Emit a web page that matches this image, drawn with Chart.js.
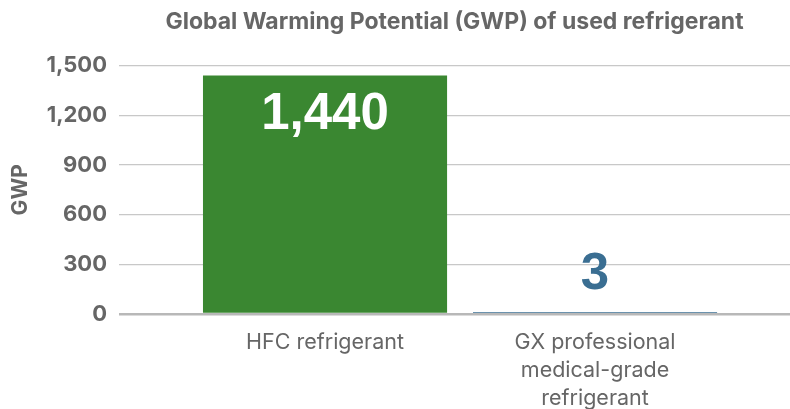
<!DOCTYPE html>
<html>
<head>
<meta charset="utf-8">
<script src="https://cdn.jsdelivr.net/npm/chart.js@4/dist/chart.umd.min.js"></script>
<style>
  html, body { margin: 0; padding: 0; background: #ffffff; }
  #wrap { width: 790px; height: 409px; position: relative; }
</style>
</head>
<body>
<div id="wrap"><canvas id="c" width="790" height="409"></canvas></div>
<script>
// ---- data ----
const categories = [
  ["HFC refrigerant"],
  ["GX professional", "medical-grade", "refrigerant"]
];
const gwpValues = [1440, 3];
const yTicks = [0, 300, 600, 900, 1200, 1500];
const chartTitle = "Global Warming Potential (GWP) of used refrigerant";
const yAxisTitle = "GWP";

// ---- styles ----
const barColors = ["#3a8731", "#3a6e92"];
const labelColors = ["#ffffff", "#3a6e92"];
const textGray = "#666666";
const FONT = "Inter, 'Liberation Sans', Arial, sans-serif";
const LABEL_FONT = "'Liberation Sans', Arial, Helvetica, sans-serif";

const points = gwpValues.map((v, i) => ({ x: i + 1, y: v }));

const valueLabels = {
  id: 'valueLabels',
  afterDatasetsDraw(chart) {
    const ctx = chart.ctx;
    const meta = chart.getDatasetMeta(0);
    const yScale = chart.scales.y;
    ctx.save();
    ctx.font = "bold 51px " + LABEL_FONT;
    ctx.textAlign = 'center';
    ctx.textBaseline = 'middle';
    meta.data.forEach((bar, i) => {
      const v = gwpValues[i];
      const txt = v.toLocaleString('en-US');
      const h = yScale.getPixelForValue(0) - bar.y;
      const y = h > 100 ? bar.y + 39 : bar.y - 37;
      ctx.fillStyle = labelColors[i];
      ctx.fillText(txt, bar.x, y);
    });
    ctx.restore();
  }
};

new Chart(document.getElementById('c'), {
  type: 'bar',
  data: {
    datasets: [{
      data: points,
      backgroundColor: barColors,
      borderWidth: 0,
      barPercentage: 0.904,
      categoryPercentage: 1.0,
      minBarLength: 2
    }]
  },
  options: {
    responsive: false,
    animation: false,
    devicePixelRatio: 1,
    layout: { padding: { left: 0, right: 0, top: 0, bottom: 0 } },
    plugins: {
      legend: { display: false },
      tooltip: { enabled: false },
      title: {
        display: true,
        text: chartTitle,
        fullSize: false,
        color: textGray,
        font: { family: FONT, size: 23, weight: 'bold' },
        padding: { top: 8, bottom: 30 }
      }
    },
    scales: {
      x: {
        type: 'linear',
        offset: false,
        min: 0.237,
        max: 2.722,
        grid: { display: false, drawTicks: false, offset: false },
        border: { display: false },
        afterFit(scale) { scale.height = 95; },
        ticks: {
          stepSize: 1,
          includeBounds: false,
          autoSkip: false,
          maxRotation: 0,
          padding: 15,
          color: textGray,
          font: { family: FONT, size: 21.5, lineHeight: 1.3 },
          callback(value) {
            if (Number.isInteger(value) && value >= 1 && value <= categories.length) {
              return categories[value - 1];
            }
            return '';
          }
        }
      },
      y: {
        min: yTicks[0],
        max: yTicks[yTicks.length - 1],
        afterFit(scale) { scale.width = 119; },
        afterBuildTicks(scale) { scale.ticks = yTicks.map(v => ({ value: v })); },
        border: { display: false },
        grid: {
          drawTicks: false,
          color(ctx) { return ctx.tick && ctx.tick.value === 0 ? '#b8b8b8' : '#c8c8c8'; },
          lineWidth(ctx) { return ctx.tick && ctx.tick.value === 0 ? 2.5 : 1.3; }
        },
        ticks: {
          padding: 12,
          color: textGray,
          font: { family: FONT, size: 22, weight: 'bold' },
          callback(value) { return Number(value).toLocaleString('en-US'); }
        },
        title: {
          display: true,
          text: yAxisTitle,
          color: textGray,
          font: { family: FONT, size: 21, weight: 'bold' },
          padding: { top: 8, bottom: 0 }
        }
      }
    }
  },
  plugins: [valueLabels]
});
</script>
</body>
</html>
